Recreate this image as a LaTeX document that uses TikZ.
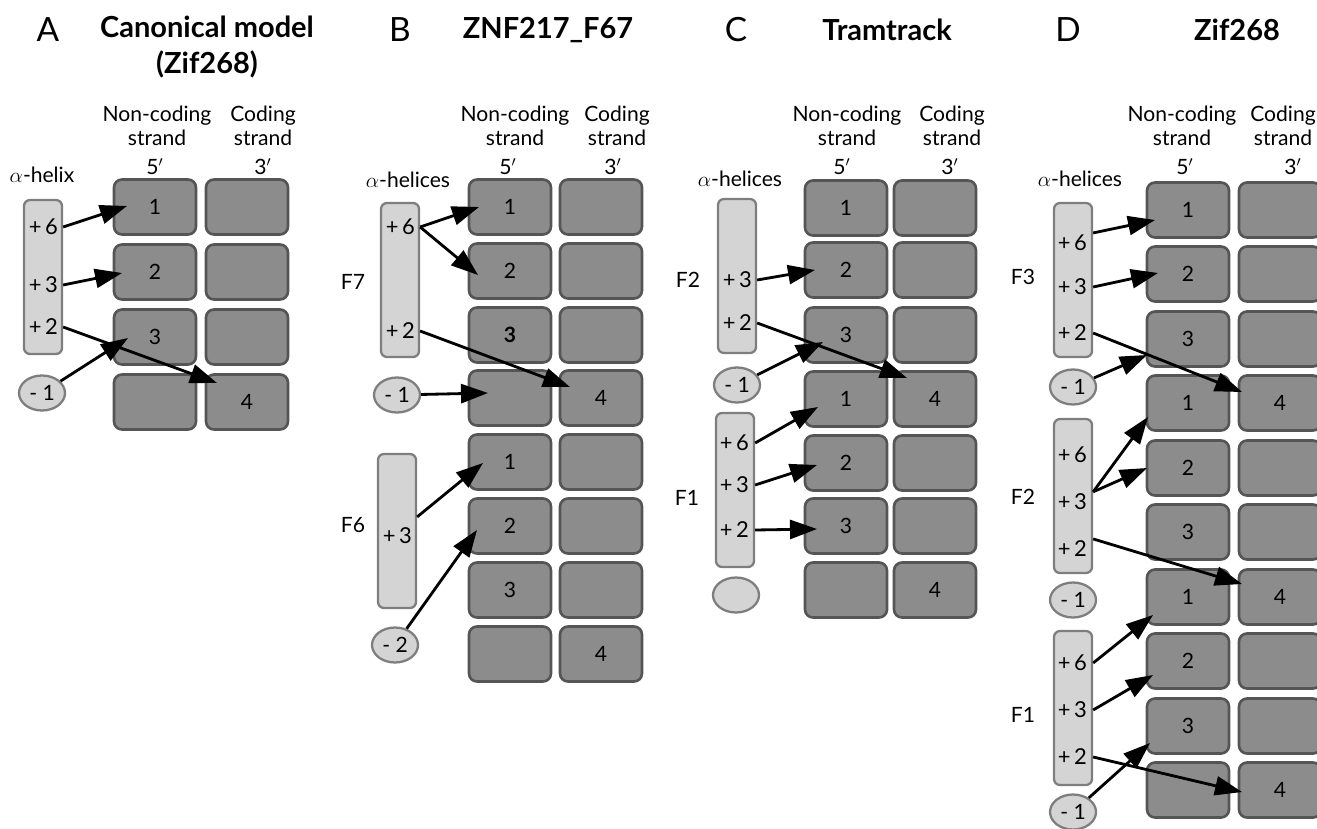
\documentclass[tikz,border=0pt]{standalone}
\usepackage{fontspec}
\setmainfont{Lato}
\usepackage{xcolor}
\usetikzlibrary{shapes, positioning, calc, arrows.meta}

\definecolor{boxfill}{HTML}{8C8C8C}
\definecolor{boxedge}{HTML}{555555}
\definecolor{helixfill}{HTML}{D4D4D4}
\definecolor{helixedge}{HTML}{7E7E7E}

\begin{document}
\begin{tikzpicture}[
            x=0.02cm, y=-0.02cm,
            every node/.style={font=\fontsize{12}{14}\selectfont},
            strand/.style={draw=boxedge, fill=boxfill, line width=1.5pt, rounded corners=0.16cm,
                minimum width=1.64cm, minimum height=1.1cm, inner sep=0pt},
            helix/.style={draw=helixedge, fill=helixfill, line width=1.3pt, rounded corners=0.12cm,
                minimum width=0.76cm, minimum height=3.08cm, inner sep=0pt},
            loopend/.style={ellipse, draw=helixedge, fill=helixfill, line width=1.3pt,
                minimum width=0.92cm, minimum height=0.7cm, inner sep=0pt},
            resid/.style={anchor=east, inner sep=1pt, font=\fontsize{12.5}{14}\selectfont},
            colhead/.style={align=center},
            paneltitle/.style={font=\bfseries\fontsize{16.5}{20}\selectfont, align=center},
            panelletter/.style={font=\fontsize{19}{20}\selectfont},
            arr/.style={-{Triangle[length=0.54cm, width=0.38cm]}, line width=1.6pt},
        ]
            \useasboundingbox (0,0) rectangle (1317,828);

            % headers
            \node[panelletter] (pa) at (48,30) {A};
            \node[paneltitle] (ta) at (207,47) {Canonical model\\(Zif268)};
            \node[panelletter] (pb) at (400,30) {B};
            \node[paneltitle] (tb) at (548,30) {ZNF217\_F67};
            \node[panelletter] (pc) at (736,30) {C};
            \node[paneltitle] (tc) at (887,30) {Tramtrack};
            \node[panelletter] (pd) at (1068,30) {D};
            \node[paneltitle] (td) at (1237,30) {Zif268};

            \node[colhead] (anc) at (157,126) {Non-coding\\strand};
            \node[colhead] (acs) at (263,126) {Coding\\strand};
            \node (a5) at (155,167) {5$'$};
            \node (a3p) at (263,167) {3$'$};
            \node[colhead] (bnc) at (515,126) {Non-coding\\strand};
            \node[colhead] (bcs) at (617,126) {Coding\\strand};
            \node (b5) at (508,167) {5$'$};
            \node (b3p) at (613,167) {3$'$};
            \node[colhead] (cnc) at (847,126) {Non-coding\\strand};
            \node[colhead] (ccs) at (952,126) {Coding\\strand};
            \node (c5) at (842,167) {5$'$};
            \node (c3p) at (950,167) {3$'$};
            \node[colhead] (dnc) at (1182,126) {Non-coding\\strand};
            \node[colhead] (dcs) at (1283,126) {Coding\\strand};
            \node (d5) at (1185,167) {5$'$};
            \node (d3p) at (1293,167) {3$'$};

            \node (al) at (42,175) {$\alpha$-helix};
            \node (bl) at (408,180) {$\alpha$-helices};
            \node (cl) at (740,179) {$\alpha$-helices};
            \node (dl) at (1080,179) {$\alpha$-helices};

            % A: canonical model
            \node[strand] (a1n) at (155,207) {1};
            \node[strand] (a1c) at (247,207) {};
            \node[strand] (a2n) at (155,272) {2};
            \node[strand] (a2c) at (247,272) {};
            \node[strand] (a3n) at (155,337) {3};
            \node[strand] (a3c) at (247,337) {};
            \node[strand] (a4n) at (155,402) {};
            \node[strand] (a4c) at (247,402) {4};
            \node[helix] (ah) at (43,277) {};
            \node[resid] (a6) at (60,227) {+\,6};
            \node[resid] (a3) at (60,285) {+\,3};
            \node[resid] (a2) at (60,327) {+\,2};
            \node[loopend] (am1) at (42,393) {- 1};

            % B: ZNF217
            \node[strand] (b1n) at (510,207) {1};
            \node[strand] (b1c) at (601,207) {};
            \node[strand] (b2n) at (510,271) {2};
            \node[strand] (b2c) at (601,271) {};
            \node[strand] (b3n) at (510,335) {\textbf{3}};
            \node[strand] (b3c) at (601,335) {};
            \node[strand] (b4n) at (510,398) {};
            \node[strand] (b4c) at (601,398) {4};
            \node[strand] (b5n) at (510,462) {1};
            \node[strand] (b5c) at (601,462) {};
            \node[strand] (b6n) at (510,526) {2};
            \node[strand] (b6c) at (601,526) {};
            \node[strand] (b7n) at (510,590) {3};
            \node[strand] (b7c) at (601,590) {};
            \node[strand] (b8n) at (510,654) {};
            \node[strand] (b8c) at (601,654) {4};
            \node (bf7) at (353,282) {F7};
            \node[helix] (bh7) at (400,280) {};
            \node[resid] (b76) at (417,227) {+\,6};
            \node[resid] (b72) at (417,331) {+\,2};
            \node[loopend] (bm1) at (397,395) {- 1};
            \node (bf6) at (353,525) {F6};
            \node[helix] (bh6) at (397,531) {};
            \node[resid] (b63) at (414,536) {+\,3};
            \node[loopend] (bm2) at (395,645) {- 2};

            % C: Tramtrack
            \node[strand] (c1n) at (846,208) {1};
            \node[strand] (c1c) at (935,208) {};
            \node[strand] (c2n) at (846,270) {2};
            \node[strand] (c2c) at (935,270) {};
            \node[strand] (c3n) at (846,335) {3};
            \node[strand] (c3c) at (935,335) {};
            \node[strand] (c4n) at (846,399) {1};
            \node[strand] (c4c) at (935,399) {4};
            \node[strand] (c5n) at (846,463) {2};
            \node[strand] (c5c) at (935,463) {};
            \node[strand] (c6n) at (846,526) {3};
            \node[strand] (c6c) at (935,526) {};
            \node[strand] (c7n) at (846,590) {};
            \node[strand] (c7c) at (935,590) {4};
            \node (cf2) at (688,280) {F2};
            \node[helix] (ch2) at (737,276) {};
            \node[resid] (c23) at (754,280) {+\,3};
            \node[resid] (c22) at (754,323) {+\,2};
            \node[loopend] (cm1) at (737,385) {- 1};
            \node (cf1) at (687,498) {F1};
            \node[helix] (ch1) at (735,490) {};
            \node[resid] (c16) at (751,443) {+\,6};
            \node[resid] (c13) at (751,485) {+\,3};
            \node[resid] (c12) at (751,530) {+\,2};
            \node[loopend] (cm0) at (736,595) {};

            % D: Zif268
            \node[strand] (d1n) at (1188,210) {1};
            \node[strand] (d1c) at (1280,210) {};
            \node[strand] (d2n) at (1188,274) {2};
            \node[strand] (d2c) at (1280,274) {};
            \node[strand] (d3n) at (1188,339) {3};
            \node[strand] (d3c) at (1280,339) {};
            \node[strand] (d4n) at (1188,403) {1};
            \node[strand] (d4c) at (1280,403) {4};
            \node[strand] (d5n) at (1188,468) {2};
            \node[strand] (d5c) at (1280,468) {};
            \node[strand] (d6n) at (1188,532) {3};
            \node[strand] (d6c) at (1280,532) {};
            \node[strand] (d7n) at (1188,597) {1};
            \node[strand] (d7c) at (1280,597) {4};
            \node[strand] (d8n) at (1188,661) {2};
            \node[strand] (d8c) at (1280,661) {};
            \node[strand] (d9n) at (1188,726) {3};
            \node[strand] (d9c) at (1280,726) {};
            \node[strand] (d10n) at (1188,790) {};
            \node[strand] (d10c) at (1280,790) {4};
            \node (df3) at (1023,277) {F3};
            \node[helix] (dh3) at (1073,280) {};
            \node[resid] (d36) at (1089,243) {+\,6};
            \node[resid] (d33) at (1089,287) {+\,3};
            \node[resid] (d32) at (1089,333) {+\,2};
            \node[loopend] (dm3) at (1073,387) {- 1};
            \node (df2) at (1023,497) {F2};
            \node[helix] (dh2) at (1073,496) {};
            \node[resid] (d26) at (1089,455) {+\,6};
            \node[resid] (d23) at (1089,502) {+\,3};
            \node[resid] (d22) at (1089,549) {+\,2};
            \node[loopend] (dm2) at (1073,600) {- 1};
            \node (df1) at (1023,715) {F1};
            \node[helix] (dh1) at (1073,708) {};
            \node[resid] (d16) at (1089,663) {+\,6};
            \node[resid] (d13) at (1089,710) {+\,3};
            \node[resid] (d12) at (1089,757) {+\,2};
            \node[loopend] (dm1) at (1073,812) {- 1};

            % contacts
            \draw[arr] (a6 -| ah.east) -- ($(a1n)+(-28,-1)$);
            \draw[arr] (a3 -| ah.east) -- ($(a2n)+(-33,1)$);
            \draw[arr] (a2 -| ah.east) -- ($(a4c)+(-30,-19)$);
            \draw[arr] (am1) -- ($(a3n)+(-27,1)$);

            \draw[arr] (b76 -| bh7.east) -- ($(b1n)+(-31,0)$);
            \draw[arr] (b76 -| bh7.east) -- ($(b2n)+(-32,4)$);
            \draw[arr] (b72 -| bh7.east) -- ($(b4c)+(-31,-11)$);
            \draw[arr] (bm1) -- ($(b4n)+(-22,-5)$);
            \draw[arr] (bh6.35) -- ($(b5n)+(-27,1)$);
            \draw[arr] (bm2) -- ($(b6n)+(-33,4)$);

            \draw[arr] (c23 -| ch2.east) -- ($(c2n)+(-31,0)$);
            \draw[arr] (c22 -| ch2.east) -- ($(c4c)+(-28,-21)$);
            \draw[arr] (cm1) -- ($(c3n)+(-23,7)$);
            \draw[arr] (c16 -| ch1.east) -- ($(c4n)+(-28,8)$);
            \draw[arr] (c13 -| ch1.east) -- ($(c5n)+(-29,2)$);
            \draw[arr] (c12 -| ch1.east) -- ($(c6n)+(-29,3)$);

            \draw[arr] (d36.north -| dh3.east) -- ($(d1n)+(-33,10)$);
            \draw[arr] (d33 -| dh3.east) -- ($(d2n)+(-30,-1)$);
            \draw[arr] (d32 -| dh3.east) -- ($(d4c)+(-38,-11)$);
            \draw[arr] (dm3) -- ($(d3n)+(-41,16)$);
            \draw[arr] (d23.north -| dh2.east) -- ($(d4n)+(-40,14)$);
            \draw[arr] (d23.north -| dh2.east) -- ($(d5n)+(-41,0)$);
            \draw[arr] (d22.north -| dh2.east) -- ($(d7c)+(-38,-13)$);
            \draw[arr] (d16 -| dh1.east) -- ($(d7n)+(-35,18)$);
            \draw[arr] (d13 -| dh1.east) -- ($(d8n)+(-35,14)$);
            \draw[arr] (d12 -| dh1.east) -- ($(d10c)+(-38,2)$);
            \draw[arr] (dm1) -- ($(d9n)+(-38,17)$);
        \end{tikzpicture}
\end{document}
